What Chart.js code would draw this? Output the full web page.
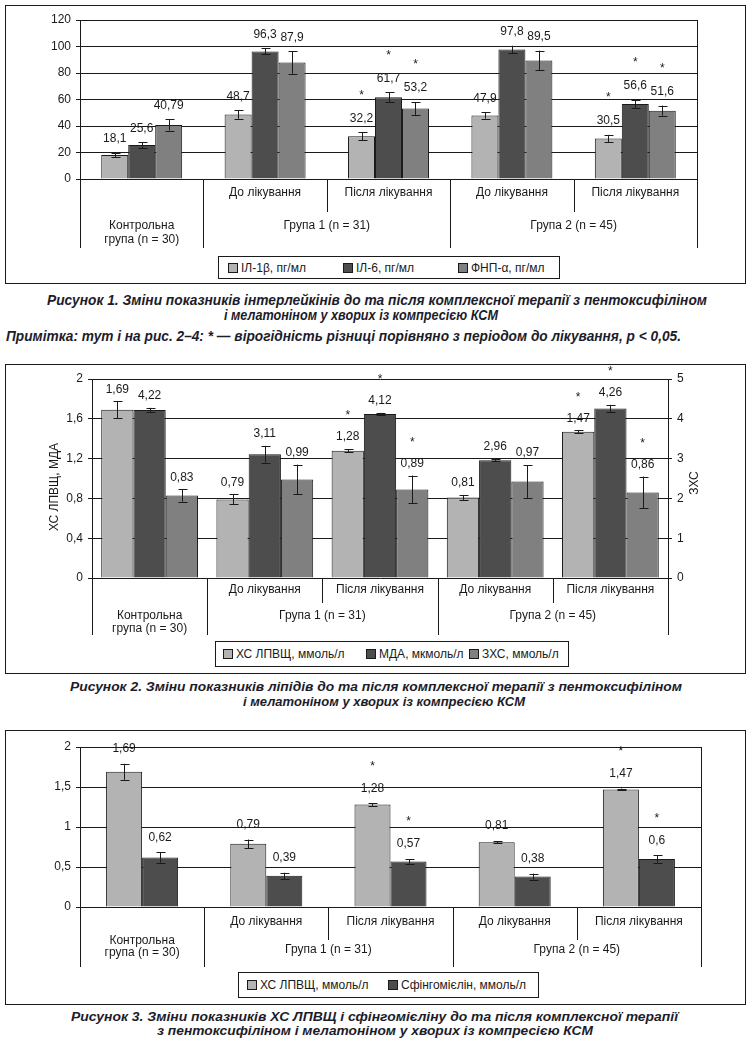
<!DOCTYPE html>
<html lang="uk">
<head>
<meta charset="utf-8">
<title>Рисунки 1–3</title>
<script src="https://cdn.jsdelivr.net/npm/chart.js@4.4.1/dist/chart.umd.min.js"></script>
<style>
  html, body { margin: 0; padding: 0; background: #fff; }
  body { width: 751px; height: 1042px; position: relative; overflow: hidden;
         font-family: "Liberation Sans", Arial, sans-serif; color: #1a1a1a; }
  .wrap { position: absolute; }
  .wrap canvas { position: absolute; left: 0; top: 0; }
  .frame { position: absolute; border: 1px solid #1a1a1a; box-sizing: border-box; pointer-events: none; }
  .legend { position: absolute; border: 1px solid #1a1a1a; box-sizing: border-box; background: #fff; }
  .litem { position: absolute; top: 0; height: 100%; display: flex; align-items: center; white-space: nowrap; font-size: 12px; }
  .lsw { width: 10px; height: 10px; border: 1px solid #1a1a1a; box-sizing: border-box; margin-right: 3px; flex: none; }
  .cap { position: absolute; white-space: nowrap; font-weight: bold; font-style: italic; color: #1c1c2a;
         transform-origin: 0 50%; }
</style>
</head>
<body>
<div class="wrap" id="w1" style="left:5px;top:5px;width:741px;height:279px"><canvas id="c1"></canvas></div>
<div class="frame" style="left:5px;top:5px;width:741px;height:279px"></div>
<div class="wrap" id="w2" style="left:5px;top:364px;width:741px;height:310px"><canvas id="c2"></canvas></div>
<div class="frame" style="left:5px;top:364px;width:741px;height:310px"></div>
<div class="wrap" id="w3" style="left:5px;top:730px;width:741px;height:275px"><canvas id="c3"></canvas></div>
<div class="frame" style="left:5px;top:730px;width:741px;height:275px"></div>

<script>
// ---------------- DATA ----------------
const categories = ['Контрольна група (n = 30)', 'Група 1: до лікування', 'Група 1: після лікування',
                    'Група 2: до лікування', 'Група 2: після лікування'];
const subLabels = ['', 'До лікування', 'Після лікування', 'До лікування', 'Після лікування'];
const controlLabel = ['Контрольна', 'група (n = 30)'];
const groupLabels = ['Група 1 (n = 31)', 'Група 2 (n = 45)'];

// Figure 1
const il1b    = [18.1, 48.7, 32.2, 47.9, 30.5];
const il1bErr = [1.5, 3.2, 2.9, 2.3, 2.8];
const il1bSig = [0, 0, 1, 0, 1];
const il6     = [25.6, 96.3, 61.7, 97.8, 56.6];
const il6Err  = [2.1, 2.3, 3.8, 2.8, 2.9];
const il6Sig  = [0, 0, 1, 0, 1];
const tnf     = [40.79, 87.9, 53.2, 89.5, 51.6];
const tnfErr  = [4.2, 8.5, 4.8, 7.4, 3.8];
const tnfSig  = [0, 0, 1, 0, 1];
const ticks1  = [0, 20, 40, 60, 80, 100, 120];

// Figure 2
const hdl2    = [1.69, 0.79, 1.28, 0.81, 1.47];
const hdl2Err = [0.085, 0.05, 0.015, 0.025, 0.015];
const hdl2Sig = [0, 0, 1, 0, 1];
const mda     = [4.22, 3.11, 4.12, 2.96, 4.26];
const mdaErr  = [0.055, 0.21, 0.03, 0.03, 0.09];
const mdaSig  = [0, 0, 1, 0, 1];
const tc      = [0.83, 0.99, 0.89, 0.97, 0.86];
const tcErr   = [0.062, 0.15, 0.14, 0.165, 0.16];
const tcSig   = [0, 0, 1, 0, 1];
const ticks2L = [0, 0.4, 0.8, 1.2, 1.6, 2];
const ticks2R = [0, 1, 2, 3, 4, 5];

// Figure 3
const hdl3    = [1.69, 0.79, 1.28, 0.81, 1.47];
const hdl3Err = [0.1, 0.053, 0.015, 0.013, 0.01];
const hdl3Sig = [0, 0, 1, 0, 1];
const sph     = [0.62, 0.39, 0.57, 0.38, 0.6];
const sphErr  = [0.065, 0.038, 0.03, 0.037, 0.044];
const sphSig  = [0, 0, 1, 0, 1];
const ticks3  = [0, 0.5, 1, 1.5, 2];

// ---------------- STYLE ----------------
const LIGHT = '#b3b3b3', DARK = '#4d4d4d', MID = '#808080', INK = '#1a1a1a';
const FONT = '"Liberation Sans", Arial, sans-serif';
Chart.defaults.font.family = FONT;
Chart.defaults.font.size = 12;
Chart.defaults.color = INK;

const fmt = v => String(v).replace('.', ',');

function crisp(v) { return Math.round(v) + 0.5; }

const annot = {
  id: 'annot',
  afterDatasetsDraw(chart, args, o) {
    const ctx = chart.ctx;
    ctx.save();
    ctx.strokeStyle = INK; ctx.fillStyle = INK; ctx.lineWidth = 1;
    ctx.font = '12px ' + FONT;
    ctx.textAlign = 'center'; ctx.textBaseline = 'middle';
    chart.data.datasets.forEach((ds, i) => {
      const meta = chart.getDatasetMeta(i);
      const ys = chart.scales[meta.yAxisID];
      meta.data.forEach((bar, j) => {
        const v = ds.data[j], e = ds.errors[j];
        const yT = ys.getPixelForValue(v + e), yB = ys.getPixelForValue(v - e);
        const x = crisp(bar.x);
        ctx.beginPath();
        ctx.moveTo(x, yT); ctx.lineTo(x, yB);
        ctx.moveTo(x - 4, crisp(yT)); ctx.lineTo(x + 5, crisp(yT));
        ctx.moveTo(x - 4, crisp(yB)); ctx.lineTo(x + 5, crisp(yB));
        ctx.stroke();
        const ly = yT - o.labelGap;
        ctx.fillText(fmt(v), bar.x, ly);
        if (ds.sig[j]) ctx.fillText('*', bar.x, ly - o.starGap + 3);
      });
    });
    ctx.restore();
  },
  afterDraw(chart, args, o) {
    const ctx = chart.ctx, ca = chart.chartArea, xs = chart.scales.x;
    const n = chart.data.labels.length;
    const centers = Array.from({length: n}, (_, k) => xs.getPixelForValue(k));
    const half = (centers[1] - centers[0]) / 2;
    const b = [ca.left, ...centers.slice(1).map(c => c - half), ca.right];
    ctx.save();
    ctx.strokeStyle = INK; ctx.lineWidth = 1; ctx.fillStyle = INK;
    ctx.beginPath();
    ctx.moveTo(crisp(b[0]), ca.bottom); ctx.lineTo(crisp(b[0]), ca.bottom + o.longY);
    ctx.moveTo(crisp(b[n]), ca.top); ctx.lineTo(crisp(b[n]), ca.bottom + o.longY);
    [1, 3].forEach(k => { ctx.moveTo(crisp(b[k]), ca.bottom); ctx.lineTo(crisp(b[k]), ca.bottom + o.longY); });
    [2, 4].forEach(k => { ctx.moveTo(crisp(b[k]), ca.bottom); ctx.lineTo(crisp(b[k]), ca.bottom + o.shortY); });
    ctx.stroke();
    ctx.font = '12px ' + FONT;
    ctx.textAlign = 'center'; ctx.textBaseline = 'middle';
    subLabels.forEach((t, k) => { if (t) ctx.fillText(t, centers[k], ca.bottom + o.subY); });
    ctx.fillText(controlLabel[0], centers[0], ca.bottom + o.ctrlY1);
    ctx.fillText(controlLabel[1], centers[0], ca.bottom + o.ctrlY2);
    ctx.fillText(groupLabels[0], (b[1] + b[3]) / 2, ca.bottom + o.groupY);
    ctx.fillText(groupLabels[1], (b[3] + b[5]) / 2, ca.bottom + o.groupY);
    (o.axisTitles || []).forEach(t => {
      ctx.save();
      ctx.translate(t.x, t.y); ctx.rotate(-Math.PI / 2);
      ctx.fillText(t.text, 0, 0);
      ctx.restore();
    });
    ctx.restore();
  }
};

function yAxis(min, max, step, width, extra) {
  return Object.assign({
    type: 'linear', min, max,
    afterFit(s) { s.width = width; },
    ticks: { stepSize: step, padding: 5, color: INK, font: { size: 12 },
             callback: v => fmt(+v.toFixed(2)) },
    grid: { color: INK, lineWidth: 1, tickLength: 4, drawTicks: true, tickColor: INK },
    border: { display: true, color: INK, width: 1 }
  }, extra || {});
}

function makeChart(id, w, h, datasets, scales, padding, barPct, annotOpts) {
  const cv = document.getElementById(id);
  cv.width = w; cv.height = h; cv.style.width = w + 'px'; cv.style.height = h + 'px';
  return new Chart(cv, {
    type: 'bar',
    data: { labels: categories, datasets: datasets.map(d => Object.assign({
      borderColor: INK, borderWidth: 1, barPercentage: 1, categoryPercentage: barPct
    }, d)) },
    options: {
      responsive: false, animation: false,
      layout: { padding },
      plugins: { legend: { display: false }, tooltip: { enabled: false }, annot: annotOpts },
      scales: Object.assign({ x: { type: 'category', display: false, offset: true } }, scales)
    },
    plugins: [annot]
  });
}

// ---- Figure 1
const ds1 = [
  { label: 'ІЛ-1β, пг/мл', data: il1b, errors: il1bErr, sig: il1bSig, backgroundColor: LIGHT },
  { label: 'ІЛ-6, пг/мл', data: il6, errors: il6Err, sig: il6Sig, backgroundColor: DARK },
  { label: 'ФНП-α, пг/мл', data: tnf, errors: tnfErr, sig: tnfSig, backgroundColor: MID }
];
makeChart('c1', 741, 279, ds1,
  { y: yAxis(ticks1[0], ticks1[ticks1.length - 1], ticks1[1] - ticks1[0], 75) },
  { left: 0, right: 49, top: 15, bottom: 105 }, 0.656,
  { labelGap: 14, starGap: 26, subY: 14, shortY: 33, groupY: 47, ctrlY1: 47, ctrlY2: 61, longY: 69 });

// ---- Figure 2
const ds2 = [
  { label: 'ХС ЛПВЩ, ммоль/л', data: hdl2, errors: hdl2Err, sig: hdl2Sig, backgroundColor: LIGHT, yAxisID: 'y' },
  { label: 'МДА, мкмоль/л', data: mda, errors: mdaErr, sig: mdaSig, backgroundColor: DARK, yAxisID: 'y2' },
  { label: 'ЗХС, ммоль/л', data: tc, errors: tcErr, sig: tcSig, backgroundColor: MID, yAxisID: 'y' }
];
makeChart('c2', 741, 310, ds2,
  { y: yAxis(ticks2L[0], ticks2L[ticks2L.length - 1], 0.4, 87),
    y2: yAxis(ticks2R[0], ticks2R[ticks2R.length - 1], 1, 78,
      { position: 'right', grid: { drawOnChartArea: false, color: INK, tickLength: 4, tickColor: INK } }) },
  { left: 0, right: 0, top: 15, bottom: 96 }, 0.84,
  { labelGap: 12, starGap: 24, subY: 12, shortY: 25, groupY: 38, ctrlY1: 38, ctrlY2: 50.5, longY: 57,
    axisTitles: [ { text: 'ХС ЛПВЩ, МДА', x: 50, y: 123 }, { text: 'ЗХС', x: 690, y: 119 } ] });

// ---- Figure 3
const ds3 = [
  { label: 'ХС ЛПВЩ, ммоль/л', data: hdl3, errors: hdl3Err, sig: hdl3Sig, backgroundColor: LIGHT },
  { label: 'Сфінгомієлін, ммоль/л', data: sph, errors: sphErr, sig: sphSig, backgroundColor: DARK }
];
makeChart('c3', 741, 275, ds3,
  { y: yAxis(ticks3[0], ticks3[ticks3.length - 1], 0.5, 75) },
  { left: 0, right: 45, top: 17, bottom: 98 }, 0.58,
  { labelGap: 15, starGap: 25, subY: 15, shortY: 33, groupY: 43, ctrlY1: 34, ctrlY2: 46, longY: 60 });

// ---------------- LEGENDS (from datasets) ----------------
function legend(datasets, box, xs) {
  const d = document.createElement('div');
  d.className = 'legend';
  Object.assign(d.style, { left: box.x + 'px', top: box.y + 'px', width: box.w + 'px', height: box.h + 'px' });
  datasets.forEach((ds, i) => {
    const it = document.createElement('div');
    it.className = 'litem';
    it.style.left = (xs[i] - box.x - 1) + 'px';
    const sw = document.createElement('span');
    sw.className = 'lsw'; sw.style.background = ds.backgroundColor;
    const tx = document.createElement('span');
    tx.textContent = ds.label;
    it.appendChild(sw); it.appendChild(tx);
    d.appendChild(it);
  });
  document.body.appendChild(d);
}
legend(ds1, { x: 218, y: 256, w: 342, h: 23 }, [228, 343, 458]);
legend(ds2, { x: 215, y: 641, w: 354, h: 26 }, [223, 366, 469]);
legend(ds3, { x: 238, y: 972, w: 301, h: 26 }, [247, 388]);

// ---------------- CAPTIONS ----------------
const captions = [
  { t: 'Рисунок 1. Зміни показників інтерлейкінів до та після комплексної терапії з пентоксифіліном', x: 47, w: 660, cy: 300, fs: 14 },
  { t: 'і мелатоніном у хворих із компресією КСМ', x: 224, w: 274, cy: 315, fs: 14 },
  { t: 'Примітка: тут і на рис. 2–4: * — вірогідність різниці порівняно з періодом до лікування, p < 0,05.', x: 6, w: 675, cy: 336, fs: 14 },
  { t: 'Рисунок 2. Зміни показників ліпідів до та після комплексної терапії з пентоксифіліном', x: 70, w: 612, cy: 686, fs: 13 },
  { t: 'і мелатоніном у хворих із компресією КСМ', x: 243, w: 282, cy: 701, fs: 13 },
  { t: 'Рисунок 3. Зміни показників ХС ЛПВЩ і сфінгомієліну до та після комплексної терапії', x: 71, w: 607, cy: 1016, fs: 13 },
  { t: 'з пентоксифіліном і мелатоніном у хворих із компресією КСМ', x: 157, w: 436, cy: 1030, fs: 13 }
];
captions.forEach(c => {
  const s = document.createElement('div');
  s.className = 'cap';
  s.textContent = c.t;
  const lh = Math.round(c.fs * 1.15);
  Object.assign(s.style, { left: c.x + 'px', top: (c.cy - lh / 2) + 'px', fontSize: c.fs + 'px', lineHeight: lh + 'px' });
  document.body.appendChild(s);
  const w = s.getBoundingClientRect().width;
  s.style.transform = 'scaleX(' + (c.w / w).toFixed(4) + ')';
});
</script>
</body>
</html>
